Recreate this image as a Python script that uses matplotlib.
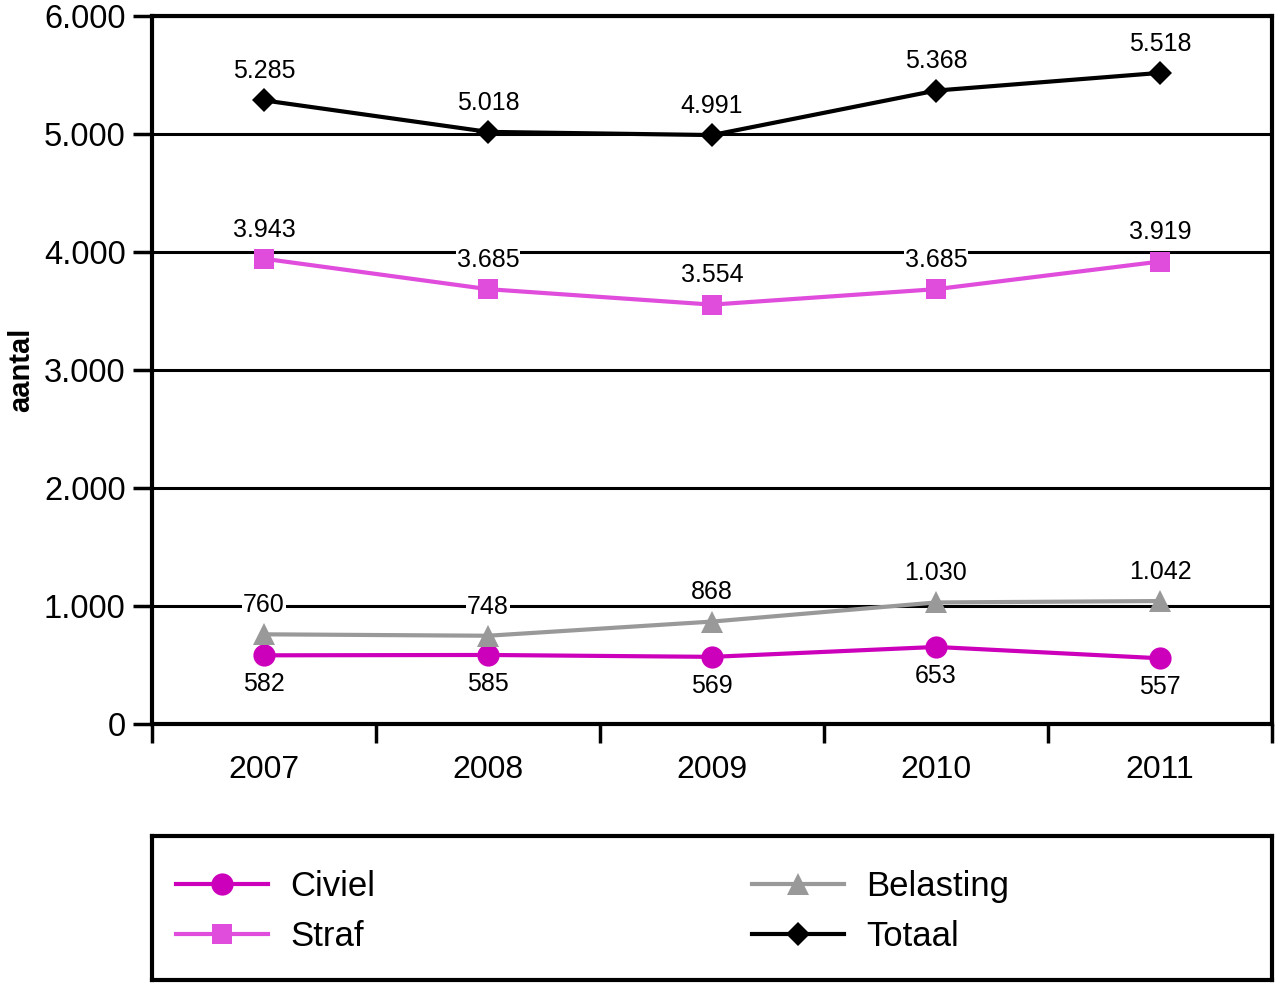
import matplotlib
matplotlib.use("Agg")
from matplotlib import pyplot as plt

plt.rcParams['font.family'] = ['Liberation Sans', 'DejaVu Sans']

years = ['2007', '2008', '2009', '2010', '2011']
civiel = [582, 585, 569, 653, 557]
straf = [3943, 3685, 3554, 3685, 3919]
belasting = [760, 748, 868, 1030, 1042]
totaal = [5285, 5018, 4991, 5368, 5518]

c_civiel = '#cc00bb'
c_straf = '#e04cdc'
c_bel = '#999999'
c_tot = '#000000'

def fmt(v):
    return '{:,}'.format(v).replace(',', '.')

fig = plt.figure(figsize=(12.76, 9.83), dpi=100)
W, H = 1276, 983
ax = fig.add_axes([152/W, 1-724/H, 1120/W, 708/H])

x = list(range(len(years)))
ax.set_xlim(-0.5, 4.5)
ax.set_ylim(0, 6000)
ax.set_yticks(range(0, 6001, 1000))
ax.set_yticklabels([fmt(v) for v in range(0, 6001, 1000)], fontsize=23.5)
ax.yaxis.grid(True, color='black', linewidth=2.2)
ax.set_axisbelow(True)
ax.set_xticks(x)
ax.set_xticklabels(years, fontsize=23)
ax.set_xticks([i - 0.5 for i in range(6)], minor=True)
ax.tick_params(axis='x', which='major', length=0, pad=22)
ax.tick_params(axis='x', which='minor', length=14, width=2.5, direction='out')
ax.tick_params(axis='y', length=14, width=2.5, pad=5)
for s in ax.spines.values():
    s.set_linewidth(3)
ax.set_ylabel('aantal', fontsize=21, fontweight='bold', labelpad=6)

series = [
    ('Civiel', civiel, c_civiel, 'o', 16, -1),
    ('Straf', straf, c_straf, 's', 14.5, 1),
    ('Belasting', belasting, c_bel, '^', 16, 1),
    ('Totaal', totaal, c_tot, 'D', 12, 1),
]
handles = []
for name, vals, col, mk, ms, side in series:
    ln, = ax.plot(x, vals, color=col, marker=mk, markersize=ms, linewidth=3,
                  markeredgewidth=0, label=name, clip_on=False, zorder=3)
    handles.append(ln)
    for xi, v in zip(x, vals):
        ax.annotate(fmt(v), (xi, v), xytext=(0, 21*side), textcoords='offset points',
                    ha='center', va='center', fontsize=18, zorder=4,
                    bbox=dict(boxstyle='square,pad=0.03', fc='white', ec='none'))

lax = fig.add_axes([152/W, 1-980/H, 1120/W, 144/H])
lax.set_xticks([])
lax.set_yticks([])
for s in lax.spines.values():
    s.set_linewidth(3)
leg_kw = dict(loc='center left', frameon=False, fontsize=25, borderpad=0,
              borderaxespad=0, handlelength=2.65, handletextpad=0.65,
              labelspacing=0.5)
leg1 = lax.legend(handles[:2], ['Civiel', 'Straf'],
                  bbox_to_anchor=(24/1120, 0.475), **leg_kw)
lax.add_artist(leg1)
lax.legend(handles[2:], ['Belasting', 'Totaal'],
           bbox_to_anchor=(600/1120, 0.475), **leg_kw)

fig.savefig('out.png', dpi=100)
